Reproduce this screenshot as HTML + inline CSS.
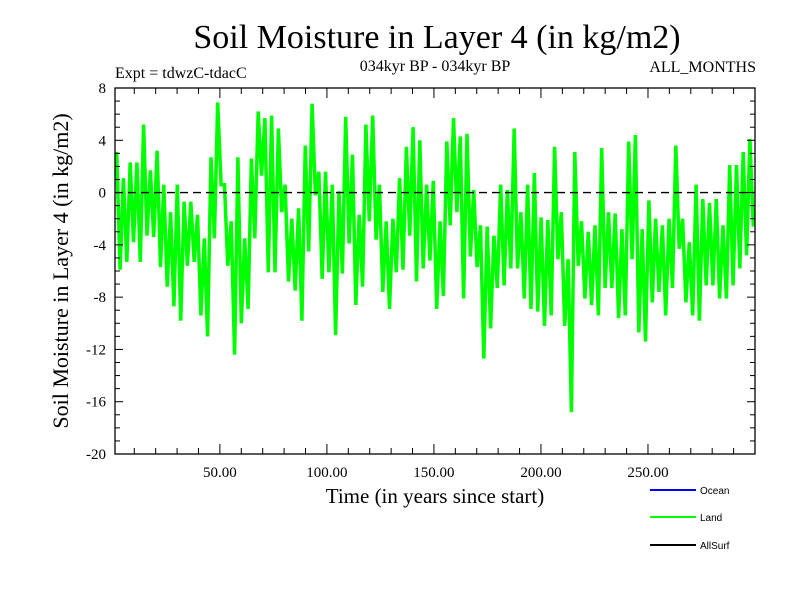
<!DOCTYPE html>
<html><head><meta charset="utf-8">
<style>
body{margin:0;background:#fff;}
svg{display:block;font-family:"Liberation Serif",serif;}
</style></head>
<body>
<svg id="chart" width="800" height="600">
<rect width="800" height="600" fill="#fff"/>
<text x="437" y="48" font-size="34" text-anchor="middle">Soil Moisture in Layer 4 (in kg/m2)</text>
<text x="115" y="78" font-size="16">Expt = tdwzC-tdacC</text>
<text x="435" y="71" font-size="16" text-anchor="middle">034kyr BP - 034kyr BP</text>
<text x="756" y="72" font-size="16" text-anchor="end">ALL_MONTHS</text>
<text transform="translate(68,271) rotate(-90)" font-size="22" text-anchor="middle">Soil Moisture in Layer 4 (in kg/m2)</text>
<text x="435" y="503" font-size="21" text-anchor="middle">Time (in years since start)</text>
<g id="plot"></g>
<g font-family="Liberation Sans, sans-serif" font-size="10">
<line x1="650" y1="490" x2="696" y2="490" stroke="#0000ff" stroke-width="2"/>
<text x="700" y="494">Ocean</text>
<line x1="650" y1="517" x2="696" y2="517" stroke="#00ff00" stroke-width="2"/>
<text x="700" y="521">Land</text>
<line x1="650" y1="545" x2="696" y2="545" stroke="#000" stroke-width="2"/>
<text x="700" y="549">AllSurf</text>
</g>
</svg>
<script>
const hiVals=[3.1,1.1,2.3,2.3,5.2,1.7,3.2,0.6,-1.5,0.6,-0.7,-0.7,-1.7,-3.5,2.7,6.9,0.6,-2.2,2.7,-3.5,2.6,6.2,5.7,5.9,4.9,0.6,-2.0,-1.2,3.6,6.8,1.6,1.6,
0.6,0.1,5.8,2.9,-1.7,5.2,5.9,0.6,-2.2,-2.0,1.1,3.5,5.0,4.0,0.6,0.9,-2.2,3.9,5.7,4.3,4.5,0.2,-2.5,-2.6,-3.3,0.6,0.2,4.9,-1.5,0.6,1.5,
-1.9,-2.1,3.5,-1.5,-5.1,3.1,-2.2,-3.0,-2.5,3.4,-1.5,-1.6,-2.8,3.9,4.4,-2.8,-0.6,-2.0,-2.5,-2.0,3.6,-2.0,-3.8,0.6,-0.5,-0.8,-0.5,-2.5,2.1,2.1,3.1,4.1];
const loVals=[-5.9,-5.3,-3.8,-5.3,-3.3,-3.4,-5.7,-7.2,-8.7,-9.8,-5.6,-5.3,-9.4,-11.0,-3.5,0.6,-5.6,-12.4,-10.0,-8.9,-3.5,1.3,-6.1,-6.1,-1.5,-6.8,-7.5,-9.8,-4.5,-0.2,-6.6,-6.1,
-10.9,-6.2,-3.9,-8.6,-7.2,-2.2,-3.6,-7.6,-8.9,-6.1,-5.9,-3.3,-6.8,-5.8,-5.2,-8.9,-7.9,-2.5,-1.5,-8.1,-4.9,-5.7,-12.7,-10.4,-7.3,-7.1,-5.8,-5.8,-8.1,-8.9,-9.1,
-10.2,-9.4,-5.1,-10.2,-16.8,-5.6,-8.1,-8.6,-9.4,-7.3,-7.3,-9.6,-9.4,-5.1,-10.7,-11.4,-8.4,-7.6,-9.4,-7.3,-4.3,-8.4,-9.4,-9.8,-7.1,-7.1,-8.1,-8.1,-7.1,-5.8,-4.8,-2.6];
const yTicks=[8,4,0,-4,-8,-12,-16,-20];
const xTicks=[50,100,150,200,250];
const xStart=1,xEnd=300,yMin=-20,yMax=8;
const L=115,R=755,T=88,B=454;
const NS='http://www.w3.org/2000/svg';
const sx=v=>L+(v-xStart)/(xEnd-xStart)*(R-L);
const sy=v=>B-(v-yMin)/(yMax-yMin)*(B-T);
const g=document.getElementById('plot');
function mk(t,a){const e=document.createElementNS(NS,t);for(const k in a)e.setAttribute(k,a[k]);g.appendChild(e);return e;}
const n=hiVals.length,span=(xEnd-xStart)/n;
let pts=[];
for(let i=0;i<n;i++){
  pts.push(sx(xStart+i*span+span*0.25).toFixed(1)+','+sy(hiVals[i]).toFixed(1));
  pts.push(sx(xStart+i*span+span*0.75).toFixed(1)+','+sy(loVals[i]).toFixed(1));
}
const line=mk('polyline',{points:pts.join(' '),fill:'none',stroke:'#00ff00','stroke-width':3.5,'stroke-linejoin':'miter'});


const z=mk('line',{x1:L,x2:R,y1:sy(0),y2:sy(0),stroke:'#000','stroke-width':1.3,'stroke-dasharray':'8,5'});


const f=mk('rect',{x:L,y:T,width:R-L,height:B-T,fill:'none',stroke:'#000','stroke-width':1.3});


for(let v=yMin;v<=yMax;v++){
  const len=(v%4===0)?8:5,y=sy(v);
  mk('line',{x1:L,x2:L+len,y1:y,y2:y,stroke:'#000','stroke-width':1});
  mk('line',{x1:R,x2:R-len,y1:y,y2:y,stroke:'#000','stroke-width':1});
}
yTicks.forEach(v=>{
  const t=mk('text',{x:106,y:sy(v)+5,'font-size':15,'text-anchor':'end'});
  t.textContent=v;
  
  
});
for(let v=10;v<xEnd;v+=10){
  const len=(v%50===0)?10:6,x=sx(v);
  mk('line',{x1:x,x2:x,y1:B,y2:B-len,stroke:'#000','stroke-width':1});
  mk('line',{x1:x,x2:x,y1:T,y2:T+len,stroke:'#000','stroke-width':1});
}
xTicks.forEach(v=>{
  const t=mk('text',{x:sx(v),y:477,'font-size':15,'text-anchor':'middle'});
  t.textContent=v.toFixed(2);
  
  
});
</script>
</body></html>
